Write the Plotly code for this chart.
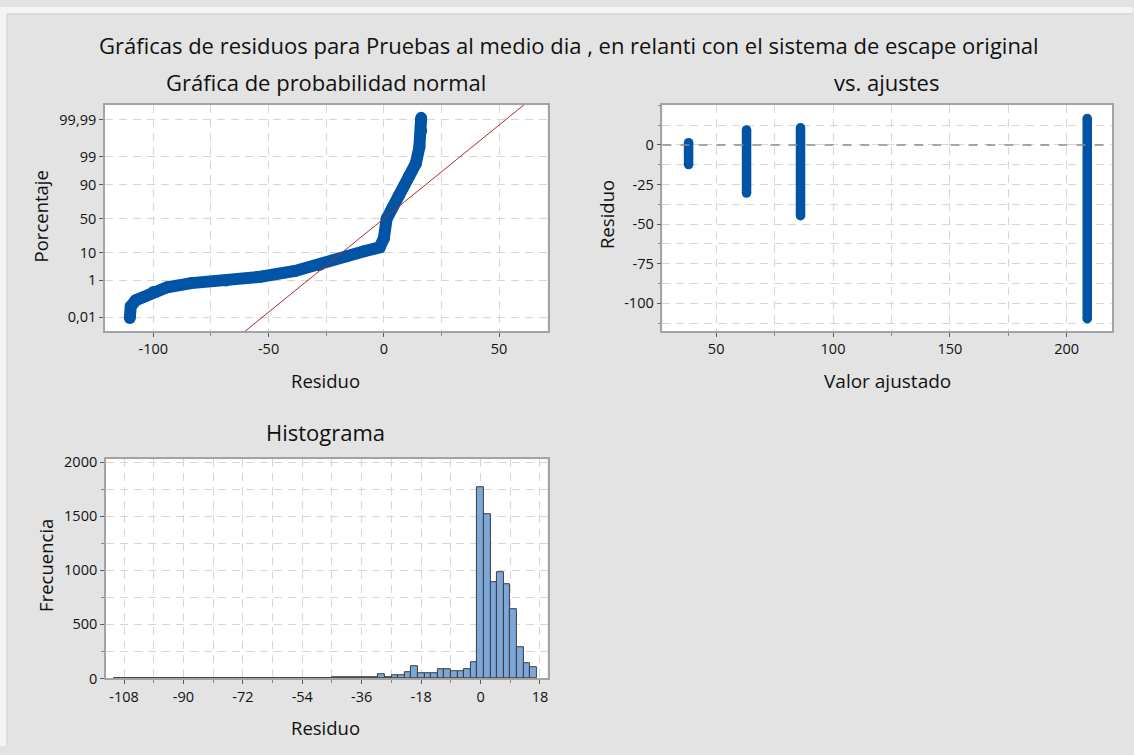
import plotly.graph_objects as go
from statistics import NormalDist

W, H = 1134, 755

# ---------------- datos ----------------
# Gráfica de probabilidad normal: residuo ordenado vs. porcentaje acumulado
prob_residuo = [-110.2, -109.8, -107.6, -100.0, -94.0, -83.5, -68.5, -53.5, -38.5,
                -28.0, -16.0, -8.5, -1.8, 0.0, 1.2, 3.4, 6.4, 10.9, 13.9, 15.4,
                16.2, 16.2]
prob_porcentaje = [0.0092, 0.047, 0.107, 0.29, 0.49, 0.76, 0.99, 1.43, 2.44,
                   4.0, 7.8, 10.9, 14.0, 23.0, 49.6, 64.1, 80.2, 94.4, 98.12,
                   99.64, 99.952, 99.9925]
media_residuos = 0.0
desv_residuos = 14.2

pct_ticks = [0.01, 1, 10, 50, 90, 99, 99.99]
pct_labels = ["0,01", "1", "10", "50", "90", "99", "99,99"]
prob_x_ticks = [-100, -50, 0, 50]
prob_x_labels = ["-100", "-50", "0", "50"]

# vs. ajustes: cada valor ajustado con su residuo mínimo y máximo
ajustados = [38.2, 63.0, 86.1, 208.8]
resid_max = [1.4, 9.5, 10.8, 16.7]
resid_min = [-12.4, -30.4, -44.7, -109.7]
aj_x_ticks = [50, 100, 150, 200]
aj_x_labels = ["50", "100", "150", "200"]
aj_y_ticks = [0, -25, -50, -75, -100]
aj_y_labels = ["0", "-25", "-50", "-75", "-100"]

# Histograma: centros de clase (ancho 2) y frecuencias
ancho_clase = 2
hist_centros = list(range(-110, 17, 2))
hist_frec = [3, 3, 2, 2, 3, 3, 4, 4, 4, 4,
             3, 3, 3, 3, 3, 3, 3, 3, 3, 3,
             3, 3, 3, 4, 4, 4, 4, 4, 5, 5,
             5, 6, 6, 8, 8, 8, 9, 9, 10, 12,
             36, 12, 28, 30, 55, 110, 50, 50, 50, 88,
             88, 70, 70, 90, 148, 1766, 1515, 894, 985, 873,
             644, 288, 141, 106]
hist_x_ticks = [-108, -90, -72, -54, -36, -18, 0, 18]
hist_x_labels = ["-108", "-90", "-72", "-54", "-36", "-18", "0", "18"]
hist_y_ticks = [0, 500, 1000, 1500, 2000]
hist_y_labels = ["0", "500", "1000", "1500", "2000"]

# ---------------- estilo ----------------
FONT = "Open Sans"
AZUL = "#0054A6"
ROJO = "#B22A2E"
BARRA = "#7DA7D9"
MARCO = "#A3A3A3"
REJILLA = "#D6D6D6"
FONDO = "#E3E3E3"
BORDE = "#F4F4F4"
TXT = "#111111"
TICK_SIZE = 14.5
DASH = "8px,6px"

probit = NormalDist().inv_cdf


def px_x(a, b):
    return [a / W, b / W]


def px_y(top, bottom):
    return [1 - bottom / H, 1 - top / H]


def eje(**kw):
    base = dict(
        showline=True, linecolor=MARCO, linewidth=1.5, mirror=True,
        ticks="outside", ticklen=4, tickcolor="#5A5A5A", tickwidth=1,
        showgrid=True, gridcolor=REJILLA, griddash=DASH, gridwidth=1.4,
        zeroline=False, tickfont=dict(family=FONT, size=TICK_SIZE, color=TXT),
        tickmode="array", fixedrange=True,
    )
    base.update(kw)
    return base


def menor(paso, origen=0):
    return dict(dtick=paso, tick0=origen, showgrid=True, gridcolor=REJILLA,
                griddash=DASH, gridwidth=1.4, ticks="outside", ticklen=3,
                tickcolor="#8A8A8A")


fig = go.Figure()

# Probabilidad normal
fig.add_trace(go.Scatter(
    x=prob_residuo, y=[probit(p / 100) for p in prob_porcentaje],
    mode="lines+markers", line=dict(color=AZUL, width=12),
    marker=dict(color=AZUL, size=12), xaxis="x", yaxis="y", showlegend=False))

p_ext = [0.0005, 99.9995]
fig.add_trace(go.Scatter(
    x=[media_residuos + desv_residuos * probit(p / 100) for p in p_ext],
    y=[probit(p / 100) for p in p_ext],
    mode="lines", line=dict(color=ROJO, width=1), xaxis="x", yaxis="y",
    showlegend=False))

# Residuos vs. ajustes
xs, ys = [], []
for a, lo, hi in zip(ajustados, resid_min, resid_max):
    xs += [a, a, None]
    ys += [lo, hi, None]
fig.add_trace(go.Scatter(
    x=xs, y=ys, mode="lines+markers", line=dict(color=AZUL, width=9.5),
    marker=dict(color=AZUL, size=9.5), xaxis="x2", yaxis="y2", showlegend=False))

# Histograma
fig.add_trace(go.Bar(
    x=hist_centros, y=hist_frec, width=ancho_clase,
    marker=dict(color=BARRA, line=dict(color="#3C3C3C", width=1)),
    xaxis="x3", yaxis="y3", showlegend=False))

fig.update_layout(
    width=W, height=H, margin=dict(l=0, r=0, t=0, b=0),
    paper_bgcolor=FONDO, plot_bgcolor="white",
    font=dict(family=FONT, color=TXT),
    bargap=0,
    xaxis=eje(domain=px_x(105, 548), range=[-121, 71], anchor="y",
              tickvals=prob_x_ticks, ticktext=prob_x_labels, minor=menor(25)),
    yaxis=eje(domain=px_y(100, 331), range=[-4.23, 4.28], anchor="x",
              tickvals=[probit(p / 100) for p in pct_ticks], ticktext=pct_labels),
    xaxis2=eje(domain=px_x(663, 1113), range=[27, 219.4], anchor="y2",
               tickvals=aj_x_ticks, ticktext=aj_x_labels, minor=menor(25)),
    yaxis2=eje(domain=px_y(100, 331), range=[-117.5, 25.3], anchor="x2",
               tickvals=aj_y_ticks, ticktext=aj_y_labels, minor=menor(12.5)),
    xaxis3=eje(domain=px_x(106, 548), range=[-113.5, 20.3], anchor="y3",
               tickvals=hist_x_ticks, ticktext=hist_x_labels, minor=menor(9)),
    yaxis3=eje(domain=px_y(462, 686), range=[0, 2027], anchor="x3",
               tickvals=hist_y_ticks, ticktext=hist_y_labels, minor=menor(250)),
)

# Franja clara en los bordes superior e izquierdo de la ventana
fig.add_shape(type="rect", xref="paper", yref="paper", x0=0, x1=1,
              y0=1 - 7 / H, y1=1, fillcolor=BORDE, line_width=0, layer="below")
fig.add_shape(type="rect", xref="paper", yref="paper", x0=0, x1=7 / W,
              y0=0, y1=1, fillcolor=BORDE, line_width=0, layer="below")
fig.add_shape(type="path", xref="paper", yref="paper",
              path=f"M {7 / W} 0 L {7 / W} {1 - 7 / H} L 1 {1 - 7 / H}",
              line=dict(color="#D0D0D0", width=1), layer="below")

# Línea de referencia en cero
fig.add_shape(type="line", xref="x2 domain", x0=0, x1=1, yref="y2", y0=0, y1=0,
              line=dict(color="#8C8C8C", width=1.5, dash="dash"))


def texto(t, x, y, size, angle=0):
    fig.add_annotation(text=t, x=x / W, y=1 - y / H, xref="paper", yref="paper",
                       showarrow=False, textangle=angle, xanchor="center",
                       yanchor="middle", font=dict(family=FONT, size=size, color=TXT))


texto("Gráficas de residuos para Pruebas al medio dia , en relanti con el sistema de escape original",
      570, 39, 22)
texto("Gráfica de probabilidad normal", 326, 77, 22)
texto("vs. ajustes", 887, 77, 22)
texto("Histograma", 326, 434, 22)
texto("Residuo", 326, 382, 18.5)
texto("Porcentaje", 41, 214, 18.5, -90)
texto("Valor ajustado", 888, 382, 19)
texto("Residuo", 607, 212, 18.5, -90)
texto("Frecuencia", 46, 570, 18.5, -90)
texto("Residuo", 326, 736, 18.5)

fig.write_html("out.html")
